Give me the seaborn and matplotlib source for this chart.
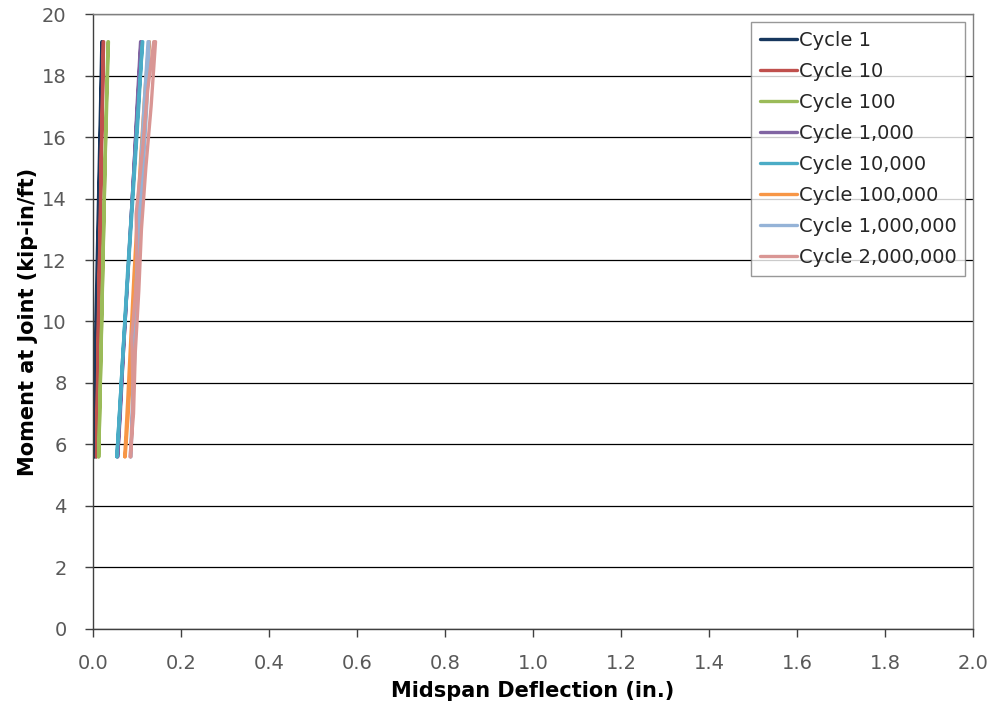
import pandas as pd
import matplotlib
matplotlib.use('Agg')
import matplotlib.pyplot as plt
import seaborn as sns

# Load / unload loops (deflection in., moment kip-in/ft)
moment = [5.6, 7.5, 9.5, 11.5, 13.5, 15.5, 17.5, 19.1, 19.1, 17.0, 15.0, 13.0, 11.0, 9.0, 7.0, 5.6]

defl_c1 = [0.004, 0.006, 0.008, 0.011, 0.013, 0.016, 0.019, 0.021, 0.020, 0.017, 0.014, 0.011, 0.008, 0.005, 0.003, 0.004]
defl_c10 = [0.008, 0.010, 0.012, 0.014, 0.017, 0.019, 0.022, 0.024, 0.023, 0.021, 0.018, 0.016, 0.013, 0.011, 0.009, 0.008]
defl_c100 = [0.013, 0.016, 0.019, 0.022, 0.025, 0.028, 0.032, 0.035, 0.034, 0.030, 0.027, 0.024, 0.021, 0.018, 0.015, 0.013]
defl_c1k = [0.056, 0.063, 0.071, 0.079, 0.087, 0.095, 0.103, 0.109, 0.108, 0.100, 0.093, 0.085, 0.077, 0.069, 0.062, 0.056]
defl_c10k = [0.054, 0.062, 0.070, 0.078, 0.087, 0.096, 0.105, 0.113, 0.112, 0.104, 0.095, 0.086, 0.077, 0.068, 0.060, 0.054]
defl_c100k = [0.072, 0.079, 0.086, 0.093, 0.101, 0.109, 0.118, 0.127, 0.128, 0.121, 0.112, 0.104, 0.096, 0.088, 0.080, 0.073]
defl_c1m = [0.085, 0.090, 0.094, 0.099, 0.104, 0.110, 0.118, 0.125, 0.127, 0.122, 0.114, 0.106, 0.100, 0.095, 0.090, 0.086]
defl_c2m = [0.086, 0.091, 0.088, 0.100, 0.098, 0.112, 0.124, 0.138, 0.142, 0.132, 0.120, 0.110, 0.104, 0.096, 0.092, 0.084]

cycles = ['Cycle 1', 'Cycle 10', 'Cycle 100', 'Cycle 1,000', 'Cycle 10,000',
          'Cycle 100,000', 'Cycle 1,000,000', 'Cycle 2,000,000']
deflections = [defl_c1, defl_c10, defl_c100, defl_c1k, defl_c10k, defl_c100k, defl_c1m, defl_c2m]
colors = ['#17375E', '#C0504D', '#9BBB59', '#8064A2', '#4BACC6', '#F79646', '#95B3D7', '#D99694']

x_ticks = [0.0, 0.2, 0.4, 0.6, 0.8, 1.0, 1.2, 1.4, 1.6, 1.8, 2.0]
y_ticks = [0, 2, 4, 6, 8, 10, 12, 14, 16, 18, 20]

rows = []
for name, defl in zip(cycles, deflections):
    for i, (d, m) in enumerate(zip(defl, moment)):
        rows.append({'Cycle': name, 'order': i, 'Deflection': d, 'Moment': m})
df = pd.DataFrame(rows)

sns.set_theme(style='white')
plt.rcParams['font.family'] = ['DejaVu Sans']

fig = plt.figure(figsize=(9.93, 7.15), dpi=100)
ax = fig.add_axes([0.0937, 0.1203, 0.8862, 0.8601])

sns.lineplot(data=df, x='Deflection', y='Moment', hue='Cycle', hue_order=cycles,
             palette=colors, sort=False, estimator=None, linewidth=2.4, ax=ax)

ax.set_xlim(0, 2.0)
ax.set_ylim(0, 20)
ax.set_xticks(x_ticks)
ax.set_xticklabels([f'{v:.1f}' for v in x_ticks])
ax.set_yticks(y_ticks)
ax.yaxis.grid(True, color='black', linewidth=0.9)
ax.xaxis.grid(False)
ax.set_axisbelow(True)

for side in ['right', 'top']:
    ax.spines[side].set_color('#7f7f7f')
    ax.spines[side].set_linewidth(1.0)
for side in ['left', 'bottom']:
    ax.spines[side].set_color('#404040')
    ax.spines[side].set_linewidth(1.0)

ax.tick_params(axis='both', direction='out', length=6, width=1, color='#404040',
               labelsize=14, labelcolor='#595959', bottom=True, left=True)
ax.tick_params(axis='x', pad=12)
ax.tick_params(axis='y', pad=13)

ax.set_xlabel('Midspan Deflection (in.)', fontsize=15, fontweight='bold', color='black', labelpad=6)
ax.set_ylabel('Moment at Joint (kip-in/ft)', fontsize=15, fontweight='bold', color='black', labelpad=3)

leg = ax.legend(loc='upper right', bbox_to_anchor=(0.991, 0.987), fontsize=14,
                frameon=True, fancybox=False, handlelength=1.9, handletextpad=0.1,
                borderpad=0.45, labelspacing=0.62, borderaxespad=0)
leg.get_frame().set_edgecolor('#7f7f7f')
leg.get_frame().set_linewidth(1.0)
for t in leg.get_texts():
    t.set_color('#262626')

fig.savefig('out.png', dpi=100)
